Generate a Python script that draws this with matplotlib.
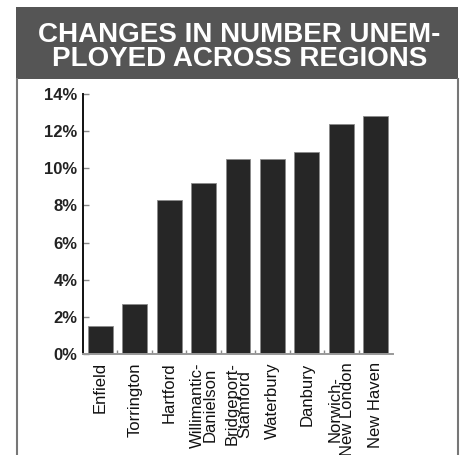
import numpy as np
import matplotlib.pyplot as plt
from matplotlib.patches import Rectangle
from matplotlib.lines import Line2D

# unemployment change by labor market region, percent
regions = ['Enfield', 'Torrington', 'Hartford', 'Willimantic-\nDanielson',
           'Bridgeport-\nStamford', 'Waterbury', 'Danbury',
           'Norwich-\nNew London', 'New Haven']
change = [1.5, 2.7, 8.3, 9.2, 10.5, 10.5, 10.9, 12.4, 12.8]
yticks = [0, 2, 4, 6, 8, 10, 12, 14]

fig = plt.figure(figsize=(4.64, 4.55), dpi=100)
fig.patch.set_facecolor('white')

# title banner
fig.patches.append(Rectangle((16/464, 1-79/455), (458-16)/464, 72/455,
                             transform=fig.transFigure, facecolor='#555555',
                             edgecolor='none', zorder=0))
fig.text(0.516, 1-46.5/455, 'CHANGES IN NUMBER UNEM-\nPLOYED ACROSS REGIONS',
         color='white', fontsize=20, fontweight='bold', ha='center', va='center',
         family='Liberation Sans', linespacing=0.9)
# side rules of the panel
for xp in (16.5, 458.5):
    fig.lines.append(Line2D([xp/464, xp/464], [0, 1-79/455], transform=fig.transFigure,
                            color='#777777', lw=1.5))

ax = fig.add_axes([83/464, 1-354/455, 310/464, 260/455])
x = np.arange(len(regions))
ax.bar(x, change, width=0.72, color='#262626', edgecolor='#8a8a8a', linewidth=0.6, zorder=2)

ax.set_xlim(-0.5, len(regions) - 0.5)
ax.set_ylim(0, 14)
ax.set_yticks(yticks)
ax.set_yticklabels([f'{v}%' for v in yticks], fontsize=12, family='Liberation Sans',
                   fontweight='bold', color='#222222')
ax.set_xticks(x)
ax.set_xticklabels(regions, rotation=90, fontsize=12, family='Liberation Sans',
                   color='#111111', linespacing=0.8, va='top')
ax.set_xticks(x[:-1] + 0.5, minor=True)

ax.tick_params(axis='y', direction='in', length=4, width=1, color='#888888', pad=4)
ax.tick_params(axis='x', which='major', length=0, pad=6)
ax.tick_params(axis='x', which='minor', direction='in', length=3, width=1, color='#888888')

for s in ('top', 'right'):
    ax.spines[s].set_visible(False)
ax.spines['left'].set_linewidth(1.4)
ax.spines['left'].set_color('#111111')
ax.spines['bottom'].set_linewidth(1.4)
ax.spines['bottom'].set_color('#999999')

fig.savefig('out.png', dpi=100)
